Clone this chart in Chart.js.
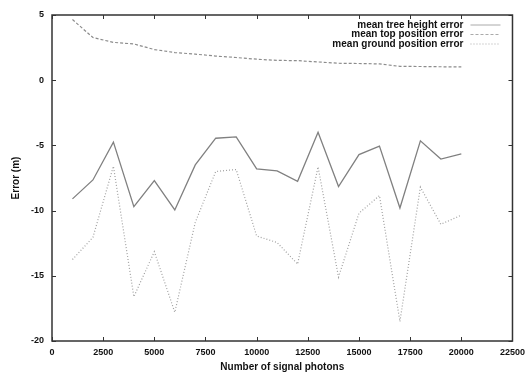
<!DOCTYPE html>
<html>
<head>
<meta charset="utf-8">
<script src="https://cdn.jsdelivr.net/npm/chart.js@4/dist/chart.umd.min.js"></script>
<style>
html,body{margin:0;padding:0;background:#fff;}
#wrap{width:531px;height:373px;position:relative;}
</style>
</head>
<body>
<div id="wrap"><canvas id="errChart"></canvas></div>
<script>

// photons per run
const photons = [1000,2000,3000,4000,5000,6000,7000,8000,9000,10000,
                 11000,12000,13000,14000,15000,16000,17000,18000,19000,20000];

const treeHeightErr = [-9.1,-7.65,-4.75,-9.7,-7.7,-9.95,-6.5,-4.45,-4.35,-6.8,
                       -6.95,-7.75,-4.0,-8.15,-5.7,-5.05,-9.8,-4.65,-6.05,-5.65];

const topPosErr = [4.65,3.27,2.9,2.78,2.35,2.12,2.0,1.85,1.74,1.61,
                   1.52,1.5,1.4,1.3,1.28,1.25,1.06,1.05,1.03,1.02];

const groundPosErr = [-13.75,-12.05,-6.6,-16.6,-13.15,-17.8,-10.9,-7.0,-6.85,-11.95,
                      -12.45,-14.1,-6.65,-15.1,-10.2,-8.85,-18.5,-8.2,-11.05,-10.35];

const xTicks = [0,2500,5000,7500,10000,12500,15000,17500,20000,22500];
const yTicks = [-20,-15,-10,-5,0,5];

const seriesLabels = ["mean tree height error","mean top position error","mean ground position error"];

const toPoints = arr => arr.map((v,i)=>({x:photons[i],y:v}));

const FONT = "'Liberation Sans', Arial, sans-serif";

// gnuplot style frame + inward ticks + legend
const framePlugin = {
    id:"frame",
    afterDraw(chart){
        const {ctx, chartArea:a, scales} = chart;
        ctx.save();
        ctx.strokeStyle = "#333";
        ctx.lineWidth = 1.5;
        ctx.strokeRect(a.left, a.top, a.right-a.left, a.bottom-a.top);

        ctx.lineWidth = 1;
        ctx.beginPath();
        xTicks.forEach(t=>{
            const px = Math.round(scales.x.getPixelForValue(t))+0.5;
            ctx.moveTo(px,a.bottom); ctx.lineTo(px,a.bottom-4);
            ctx.moveTo(px,a.top); ctx.lineTo(px,a.top+4);
        });
        yTicks.forEach(t=>{
            const py = Math.round(scales.y.getPixelForValue(t))+0.5;
            ctx.moveTo(a.left,py); ctx.lineTo(a.left+4,py);
            ctx.moveTo(a.right,py); ctx.lineTo(a.right-4,py);
        });
        ctx.stroke();

        // legend
        ctx.font = "bold 10px " + FONT;
        ctx.textAlign = "right";
        ctx.textBaseline = "middle";
        chart.data.datasets.forEach((ds,i)=>{
            const y = a.top + 10 + i*9.5;
            ctx.fillStyle = "#111";
            ctx.fillText(ds.label, a.right - 49, y);
            ctx.strokeStyle = "#aaa";
            ctx.lineWidth = 1;
            ctx.setLineDash(ds.borderDash || []);
            ctx.beginPath();
            ctx.moveTo(a.right - 42, y);
            ctx.lineTo(a.right - 12, y);
            ctx.stroke();
        });
        ctx.restore();
    }
};

new Chart(document.getElementById("errChart").getContext("2d"),{

    type:"line",

    data:{
        datasets:[
            {
                label:seriesLabels[0],
                data:toPoints(treeHeightErr),
                borderColor:"#808080",
                borderWidth:1.3,
                pointRadius:0,
                tension:0
            },
            {
                label:seriesLabels[1],
                data:toPoints(topPosErr),
                borderColor:"#8c8c8c",
                borderWidth:1.2,
                borderDash:[3,2],
                pointRadius:0,
                tension:0
            },
            {
                label:seriesLabels[2],
                data:toPoints(groundPosErr),
                borderColor:"#a0a0a0",
                borderWidth:1.2,
                borderDash:[1,2],
                pointRadius:0,
                tension:0
            }
        ]
    },

    options:{
        responsive:true,
        maintainAspectRatio:false,
        animation:false,
        layout:{padding:{top:15,right:16,left:0,bottom:0}},
        plugins:{
            legend:{display:false},
            tooltip:{enabled:false}
        },
        scales:{
            x:{
                type:"linear",
                min:0,
                max:22500,
                afterBuildTicks(scale){
                    scale.ticks = xTicks.map(v=>({value:v}));
                },
                afterFit(scale){ scale.height = 32; },
                grid:{display:false, drawTicks:false},
                border:{display:false},
                ticks:{
                    color:"#111",
                    font:{family:FONT, size:9, weight:"bold"},
                    padding:6,
                    maxRotation:0,
                    autoSkip:false,
                    callback:v=>String(v)
                },
                title:{
                    display:true,
                    text:"Number of signal photons",
                    color:"#111",
                    font:{family:FONT, size:10, weight:"bold"},
                    padding:{top:0,bottom:0}
                }
            },
            y:{
                min:-20,
                max:5,
                afterBuildTicks(scale){
                    scale.ticks = yTicks.map(v=>({value:v}));
                },
                afterFit(scale){ scale.width = 52; },
                grid:{display:false, drawTicks:false},
                border:{display:false},
                ticks:{
                    color:"#111",
                    font:{family:FONT, size:9, weight:"bold"},
                    padding:8,
                    autoSkip:false,
                    callback:v=>String(v)
                },
                title:{
                    display:true,
                    text:"Error (m)",
                    color:"#111",
                    font:{family:FONT, size:10, weight:"bold"},
                    padding:{top:10,bottom:0}
                }
            }
        }
    },

    plugins:[framePlugin]

});

</script>
</body>
</html>
